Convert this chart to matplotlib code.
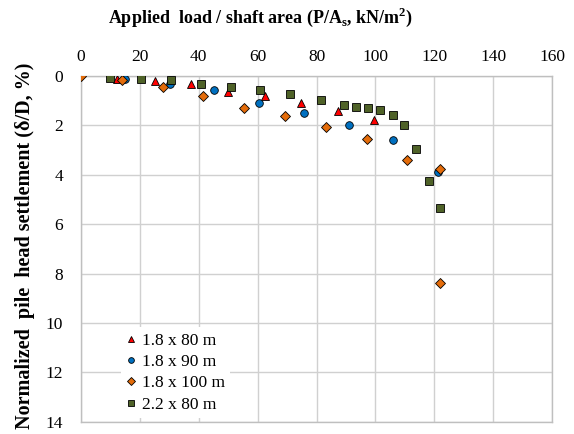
import matplotlib
matplotlib.use('Agg')
import matplotlib.pyplot as plt

plt.rcParams['font.family'] = ['Liberation Serif', 'DejaVu Serif']
plt.rcParams['mathtext.fontset'] = 'custom'
plt.rcParams['mathtext.rm'] = 'Liberation Serif'
plt.rcParams['mathtext.bf'] = 'Liberation Serif:bold'

# 1.8 x 80 m
x80 = [12.4, 25.0, 37.2, 49.9, 62.4, 74.7, 87.3, 99.4]
y80 = [0.12, 0.20, 0.34, 0.66, 0.83, 1.10, 1.42, 1.79]
# 1.8 x 90 m
x90 = [15.0, 30.3, 45.2, 60.5, 75.8, 90.9, 106.0, 121.1]
y90 = [0.13, 0.33, 0.58, 1.11, 1.50, 2.00, 2.61, 3.87]
# 1.8 x 100 m
x100 = [0, 14.0, 27.8, 41.5, 55.5, 69.4, 83.1, 97.0, 110.7, 121.9, 122.0]
y100 = [0, 0.16, 0.43, 0.81, 1.29, 1.64, 2.07, 2.56, 3.39, 3.77, 8.38]
# 2.2 x 80 m
x22 = [9.9, 20.4, 30.7, 40.8, 50.9, 60.9, 71.0, 81.4, 89.4, 93.5, 97.6,
       101.7, 106.0, 109.8, 113.9, 118.3, 122.0]
y22 = [0.07, 0.11, 0.16, 0.33, 0.43, 0.58, 0.74, 0.98, 1.19, 1.26, 1.30,
       1.39, 1.59, 1.98, 2.94, 4.27, 5.34]

fig = plt.figure(figsize=(5.74, 4.34), dpi=100)
ax = fig.add_axes([0.141, 0.028, 0.821, 0.797])

ms = 5.5
ax.plot(x80, y80, '^', color='#FF0000', mec='black', mew=0.6, ms=ms, label='1.8 x 80 m', zorder=3)
ax.plot(x90, y90, 'o', color='#0070C0', mec='black', mew=0.6, ms=ms, label='1.8 x 90 m', zorder=3)
ax.plot(x100, y100, 'D', color='#E46C0A', mec='black', mew=0.6, ms=ms, label='1.8 x 100 m', zorder=3)
ax.plot(x22, y22, 's', color='#4F6228', mec='black', mew=0.6, ms=ms, label='2.2 x 80 m', zorder=3)

ax.set_xlim(0, 160)
ax.set_ylim(14, 0)
ax.set_xticks(range(0, 161, 20))
ax.set_yticks(range(0, 15, 2))
ax.xaxis.tick_top()
ax.tick_params(length=0, labelsize=12.5)
ax.tick_params(axis='x', pad=8)
ax.tick_params(axis='y', pad=13)
ax.grid(True, color='#D0D0D0', lw=1.0)
ax.set_axisbelow(True)
for s in ax.spines.values():
    s.set_color('#BFBFBF')
    s.set_linewidth(1.0)

# axis titles placed as figure text
fig.text(260 / 574, 1 - 17 / 434,
         r'Applied  load / shaft area (P/A$_{\mathbf{s}}$, kN/m$^{\mathbf{2}}$)',
         fontsize=13, fontweight='bold', ha='center', va='center')
fig.text(25 / 574, 1 - 246 / 434, 'Normalized  pile  head settlement (δ/D, %)',
         fontsize=14.5, fontweight='bold', rotation=90, ha='center', va='center')

leg = ax.legend(loc='lower left', bbox_to_anchor=(0.066, -0.014), fontsize=12.5,
                frameon=True, framealpha=1, edgecolor='none', fancybox=False,
                handlelength=0.6, handletextpad=0.3, borderpad=0.3,
                labelspacing=0.3, markerscale=0.75)

fig.savefig('out.png', dpi=100)
